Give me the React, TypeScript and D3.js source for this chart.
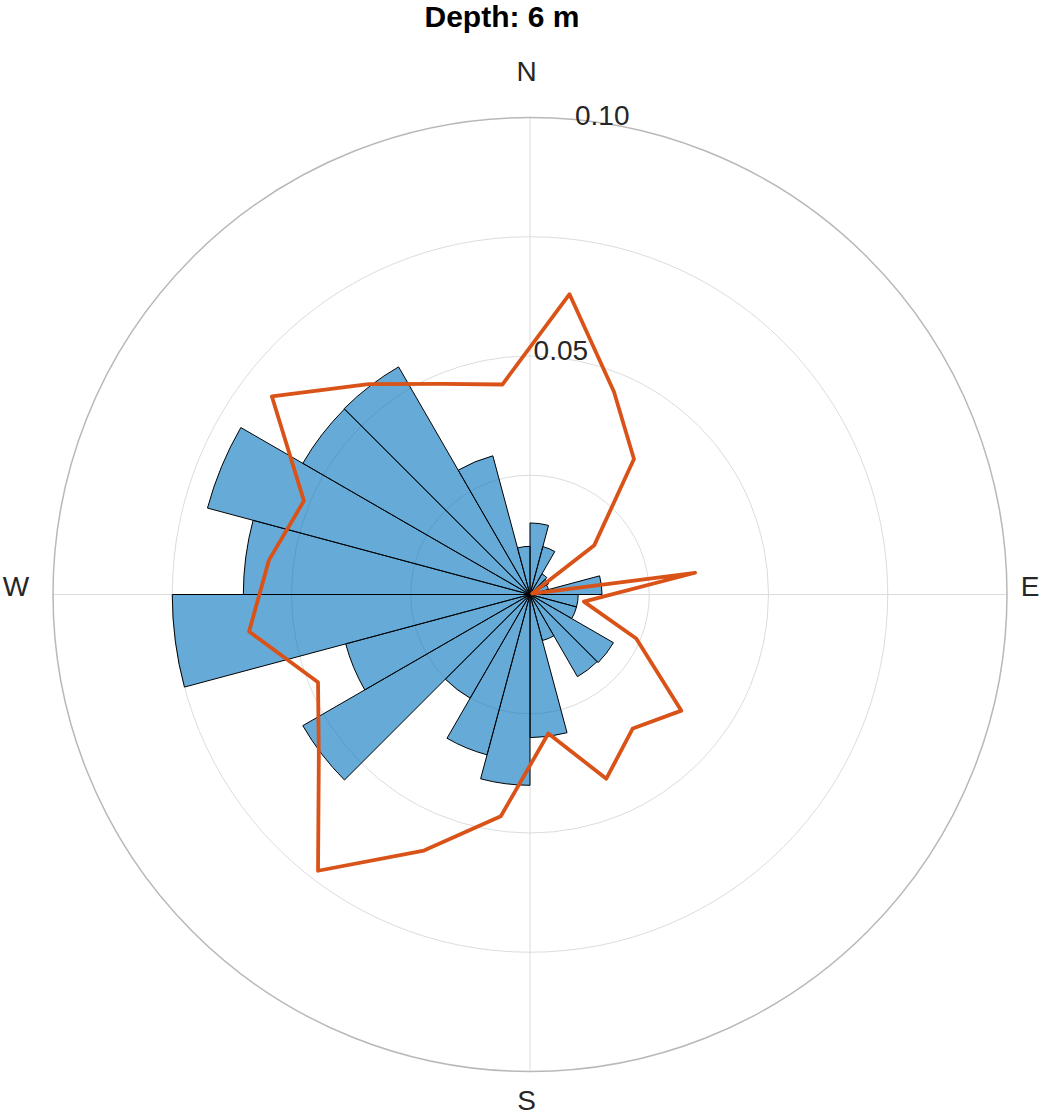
import React from "react";
import * as d3 from "d3";

// ---- data ----
const binStarts = [0, 15, 30, 45, 60, 75, 90, 105, 120, 135, 150, 165, 180, 195, 210, 225, 240, 255, 270, 285, 300, 315, 330, 345];
const binWidth = 15;
const barValues = [0.015, 0.0104, 0.005, 0.0045, 0.004, 0.0151, 0.0101, 0.0101, 0.0202, 0.0199, 0.01, 0.03, 0.04, 0.0348, 0.0251, 0.055, 0.04, 0.075, 0.0601, 0.07, 0.055, 0.0551, 0.0301, 0.0101];

const lineAngles = [7.5, 22.5, 37.5, 52.5, 67.5, 82.5, 97.5, 112.5, 127.5, 142.5, 157.5, 172.5, 187.5, 202.5, 217.5, 232.5, 247.5, 262.5, 277.5, 292.5, 307.5, 322.5, 337.5, 352.5];
const lineValues = [0.0635, 0.046, 0.0358, 0.017, 0.0005, 0.0349, 0.0114, 0.0241, 0.04, 0.0354, 0.0418, 0.0294, 0.0469, 0.0581, 0.073, 0.0558, 0.0481, 0.0594, 0.0552, 0.0513, 0.0682, 0.0556, 0.0478, 0.0444];

const rTicks = [0.025, 0.05, 0.075, 0.1];
const rTickLabels = ["", "0.05", "", "0.10"];
const rMax = 0.1;

const thetaTicks = [0, 90, 180, 270];
const thetaLabels = ["N", "E", "S", "W"];

const title = "Depth: 6 m";

// ---- layout ----
const W = 1043;
const H = 1117;
const cx = 530;
const cy = 594.5;
const R = 477;
const FONT = "'Liberation Sans', Arial, Helvetica, sans-serif";
const labelRadius = [515, 503.5, 514.5, 510.5];

export default function App() {
  const r = d3.scaleLinear().domain([0, rMax]).range([0, R]);
  const toRad = (d: number) => (d * Math.PI) / 180;

  const arc = d3.arc<any>();
  const bars = binStarts.map((a, i) =>
    arc({
      innerRadius: 0,
      outerRadius: r(barValues[i]),
      startAngle: toRad(a),
      endAngle: toRad(a + binWidth),
    }) as string
  );

  const line = d3
    .lineRadial<number>()
    .angle((_, i) => toRad(lineAngles[i]))
    .radius((v) => r(v))
    .curve(d3.curveLinearClosed);

  const pt = (deg: number, rad: number) => [rad * Math.sin(toRad(deg)), -rad * Math.cos(toRad(deg))];

  return (
    <svg width={W} height={H} style={{ position: "absolute", left: 0, top: 0, background: "#fff" }}>
      <text x={502} y={27} textAnchor="middle" fontFamily={FONT} fontWeight="bold" fontSize={30} fill="#000">
        {title}
      </text>
      <g transform={`translate(${cx},${cy})`}>
        {/* grid */}
        {rTicks.slice(0, -1).map((t) => (
          <circle key={t} r={r(t)} fill="none" stroke="#dcdcdc" strokeWidth={1} />
        ))}
        {thetaTicks.map((a) => {
          const [x, y] = pt(a, R);
          return <line key={a} x1={0} y1={0} x2={x} y2={y} stroke="#dcdcdc" strokeWidth={1} />;
        })}
        <circle r={r(rMax)} fill="none" stroke="#b8b8b8" strokeWidth={1.5} />

        {/* bars */}
        {bars.map((d, i) => (
          <path key={i} d={d} fill="#0072BD" fillOpacity={0.6} stroke="#000" strokeWidth={1} strokeLinejoin="round" />
        ))}

        {/* line */}
        <path d={line(lineValues) as string} fill="none" stroke="#D95319" strokeWidth={3.8} strokeLinejoin="round" />

        {/* theta labels */}
        {thetaTicks.map((a, i) => {
          const [x, y] = pt(a, labelRadius[i]);
          return (
            <text key={a} x={x - 3.5} y={y - 8.5} textAnchor="middle" dominantBaseline="central" fontFamily={FONT} fontSize={28} fill="#262626">
              {thetaLabels[i]}
            </text>
          );
        })}

        {/* r tick labels */}
        {rTicks.map((t, i) => {
          if (!rTickLabels[i]) return null;
          const [x, y] = pt(10, r(t));
          return (
            <text key={t} x={x - 10.6} y={y - 9} textAnchor="middle" dominantBaseline="central" fontFamily={FONT} fontSize={28} fill="#262626">
              {rTickLabels[i]}
            </text>
          );
        })}
      </g>
    </svg>
  );
}
